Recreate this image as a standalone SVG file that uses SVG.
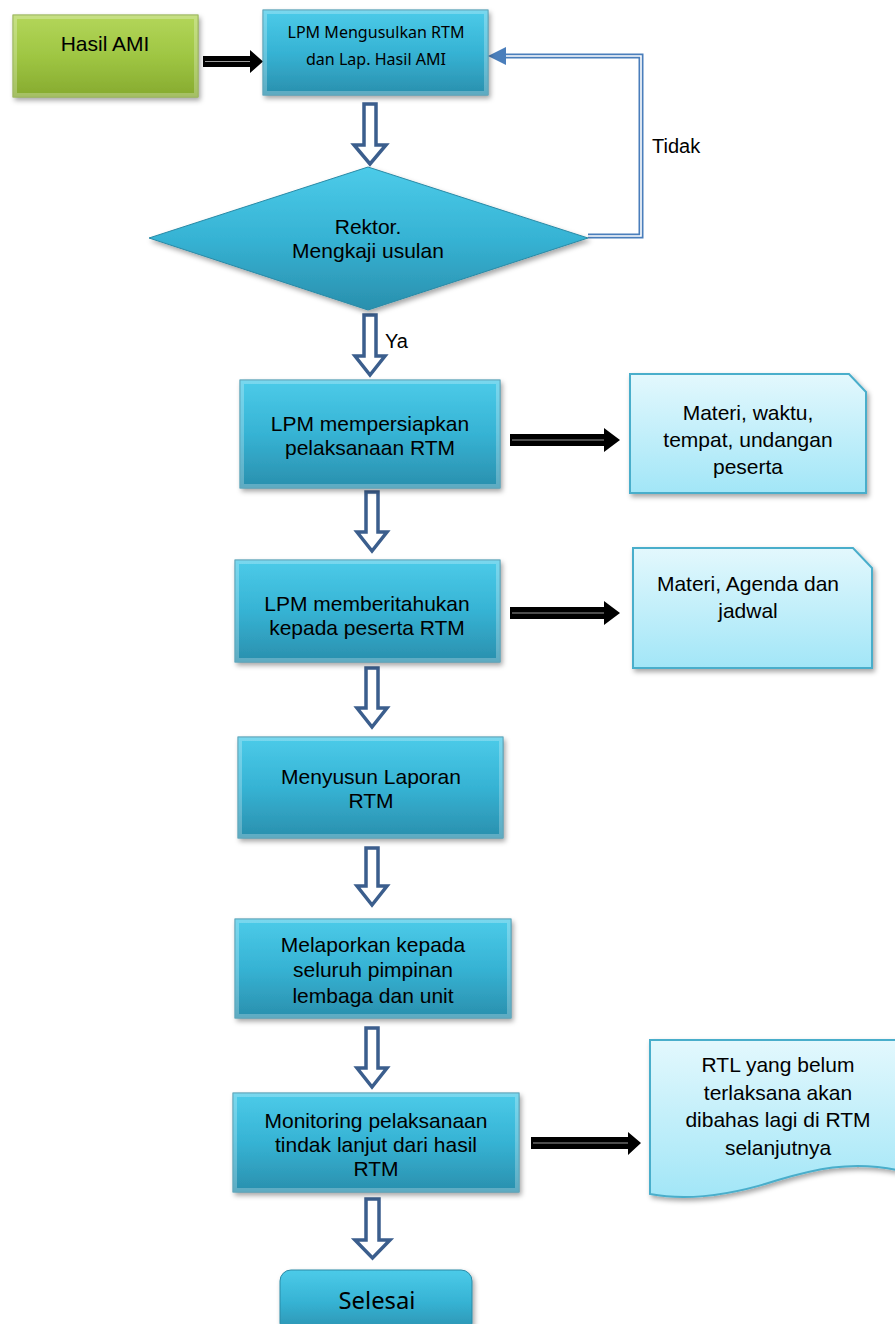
<svg xmlns="http://www.w3.org/2000/svg" width="895" height="1324" viewBox="0 0 895 1324">
<defs>
<linearGradient id="gBlue" x1="0" y1="0" x2="0" y2="1">
<stop offset="0" stop-color="#4ccbe9"/>
<stop offset="0.5" stop-color="#36b3d4"/>
<stop offset="1" stop-color="#2a8fad"/>
</linearGradient>
<linearGradient id="gGreen" x1="0" y1="0" x2="0" y2="1">
<stop offset="0" stop-color="#b3d65a"/>
<stop offset="0.5" stop-color="#9fc643"/>
<stop offset="1" stop-color="#86aa2f"/>
</linearGradient>
<linearGradient id="gDoc" x1="0" y1="0" x2="0" y2="1">
<stop offset="0" stop-color="#e3f8fd"/>
<stop offset="1" stop-color="#a2e6f7"/>
</linearGradient>
<filter id="sh" x="-10%" y="-10%" width="125%" height="130%">
<feDropShadow dx="2" dy="3" stdDeviation="2.5" flood-color="#000" flood-opacity="0.35"/>
</filter>
</defs>
<style>
.box{fill:url(#gBlue);stroke:#2a8aa6;stroke-width:1;filter:url(#sh)}
.bev{fill:none;stroke:#ffffff;stroke-opacity:0.25;stroke-width:4}
.doc{fill:url(#gDoc);stroke:#4aaecb;stroke-width:2;filter:url(#sh)}
.t{font-family:"Liberation Sans",Arial,sans-serif;font-size:21px;fill:#000;text-anchor:middle}
.s{font-family:"Liberation Sans",Arial,sans-serif;font-size:20px;fill:#000}
.c{font-family:"Noto Sans","Open Sans",sans-serif;fill:#000;text-anchor:middle}
.ha{fill:#fff;stroke:#3b5e8d;stroke-width:3.5;stroke-linejoin:miter}
.ba{fill:#000}
.bl{stroke:#9a9a9a;stroke-width:1}
</style>

<g id="connectors">
<path class="ba" d="M203,56 H250 V50 L263,61.5 L250,73 V67 H203 Z"/>
<line class="bl" x1="205" y1="61.5" x2="250" y2="61.5"/>
<path class="ha" d="M364,104 H376 V145 H386 L370,164 L354,145 H364 Z"/>
<path class="ha" d="M364,315 H376 V356 H385 L370,375 L355,356 H364 Z"/>
<path class="ha" d="M366,492 H378 V532 H387 L372,551 L357,532 H366 Z"/>
<path class="ha" d="M366,668 H378 V708 H387 L372,727 L357,708 H366 Z"/>
<path class="ha" d="M366,848 H378 V886 H387 L372,905 L357,886 H366 Z"/>
<path class="ha" d="M366,1028 H378 V1068 H387 L372,1087 L357,1068 H366 Z"/>
<path class="ha" d="M366,1199 H379 V1240 H390 L372.5,1258 L355,1240 H366 Z"/>
<path class="ba" d="M510,434 H604 V428 L620,440 L604,452 V446 H510 Z"/>
<line class="bl" x1="512" y1="440" x2="604" y2="440"/>
<path class="ba" d="M510,607 H604 V601 L620,613 L604,625 V619 H510 Z"/>
<line class="bl" x1="512" y1="613" x2="604" y2="613"/>
<path class="ba" d="M531,1137 H628 V1132 L641,1143 L628,1155 V1149 H531 Z"/>
<line class="bl" x1="533" y1="1143" x2="628" y2="1143" stroke="#4a6fa0"/>
<path d="M588,236 H641 V56 H504" fill="none" stroke="#4a7ebb" stroke-width="5"/>
<path d="M588,236 H641 V56 H504" fill="none" stroke="#fff" stroke-width="1.6"/>
<path d="M488,56 L506,47 L506,65 Z" fill="#4a7ebb"/>
<text x="652" y="153" class="s">Tidak</text>
<text x="385" y="348" class="s">Ya</text>
</g>

<g id="hasil-ami">
<rect x="13" y="15" width="185" height="82" fill="url(#gGreen)" stroke="#7f9f2e" stroke-width="1" filter="url(#sh)"/>
<rect x="15" y="17" width="181" height="78" class="bev"/>
<text x="105" y="51" class="t">Hasil AMI</text>
</g>

<g id="lpm-mengusulkan">
<rect x="263" y="10" width="225" height="85" class="box"/>
<rect x="265" y="12" width="221" height="81" class="bev"/>
<text x="376" y="38" class="c" font-size="16" textLength="177" lengthAdjust="spacingAndGlyphs">LPM Mengusulkan RTM</text>
<text x="376" y="65" class="c" font-size="16" textLength="140" lengthAdjust="spacingAndGlyphs">dan Lap. Hasil AMI</text>
</g>

<g id="rektor">
<path d="M368,167 L588,238 L368,310 L149,238 Z" class="box"/>
<text x="368" y="234" class="t">Rektor.</text>
<text x="368" y="258" class="t">Mengkaji usulan</text>
</g>

<g id="lpm-mempersiapkan">
<rect x="240" y="380" width="260" height="108" class="box"/>
<rect x="242" y="382" width="256" height="104" class="bev"/>
<text x="370" y="431" class="t">LPM mempersiapkan</text>
<text x="370" y="455" class="t">pelaksanaan RTM</text>
</g>

<g id="doc-materi-waktu">
<path d="M630,374 H849 L866,392 V493 H630 Z" class="doc"/>
<text x="748" y="420" class="t">Materi, waktu,</text>
<text x="748" y="447" class="t">tempat, undangan</text>
<text x="748" y="474" class="t">peserta</text>
</g>

<g id="lpm-memberitahukan">
<rect x="235" y="560" width="265" height="102" class="box"/>
<rect x="237" y="562" width="261" height="98" class="bev"/>
<text x="367" y="611" class="t">LPM memberitahukan</text>
<text x="367" y="635" class="t">kepada peserta RTM</text>
</g>

<g id="doc-materi-agenda">
<path d="M633,548 H853 L872,568 V668 H633 Z" class="doc"/>
<text x="748" y="591" class="t">Materi, Agenda dan</text>
<text x="748" y="618" class="t">jadwal</text>
</g>

<g id="menyusun">
<rect x="238" y="737" width="265" height="101" class="box"/>
<rect x="240" y="739" width="261" height="97" class="bev"/>
<text x="371" y="784" class="t">Menyusun Laporan</text>
<text x="371" y="808" class="t">RTM</text>
</g>

<g id="melaporkan">
<rect x="235" y="919" width="276" height="99" class="box"/>
<rect x="237" y="921" width="272" height="95" class="bev"/>
<text x="373" y="952" class="t">Melaporkan kepada</text>
<text x="373" y="977" class="t">seluruh pimpinan</text>
<text x="373" y="1003" class="t">lembaga dan unit</text>
</g>

<g id="monitoring">
<rect x="233" y="1093" width="286" height="99" class="box"/>
<rect x="235" y="1095" width="282" height="95" class="bev"/>
<text x="376" y="1128" class="t">Monitoring pelaksanaan</text>
<text x="376" y="1152" class="t">tindak lanjut dari hasil</text>
<text x="376" y="1176" class="t">RTM</text>
</g>

<g id="doc-rtl">
<path d="M650,1040 H897 V1170 C850,1160 812,1170 778,1180 C738,1193 692,1202 650,1194 Z" class="doc"/>
<text x="778" y="1072" class="t">RTL yang belum</text>
<text x="778" y="1100" class="t">terlaksana akan</text>
<text x="778" y="1127" class="t">dibahas lagi di RTM</text>
<text x="778" y="1155" class="t">selanjutnya</text>
</g>

<g id="selesai">
<rect x="280" y="1270" width="192" height="64" rx="11" class="box"/>
<text x="377" y="1309" class="c" font-size="23" textLength="77" lengthAdjust="spacingAndGlyphs">Selesai</text>
</g>
</svg>
